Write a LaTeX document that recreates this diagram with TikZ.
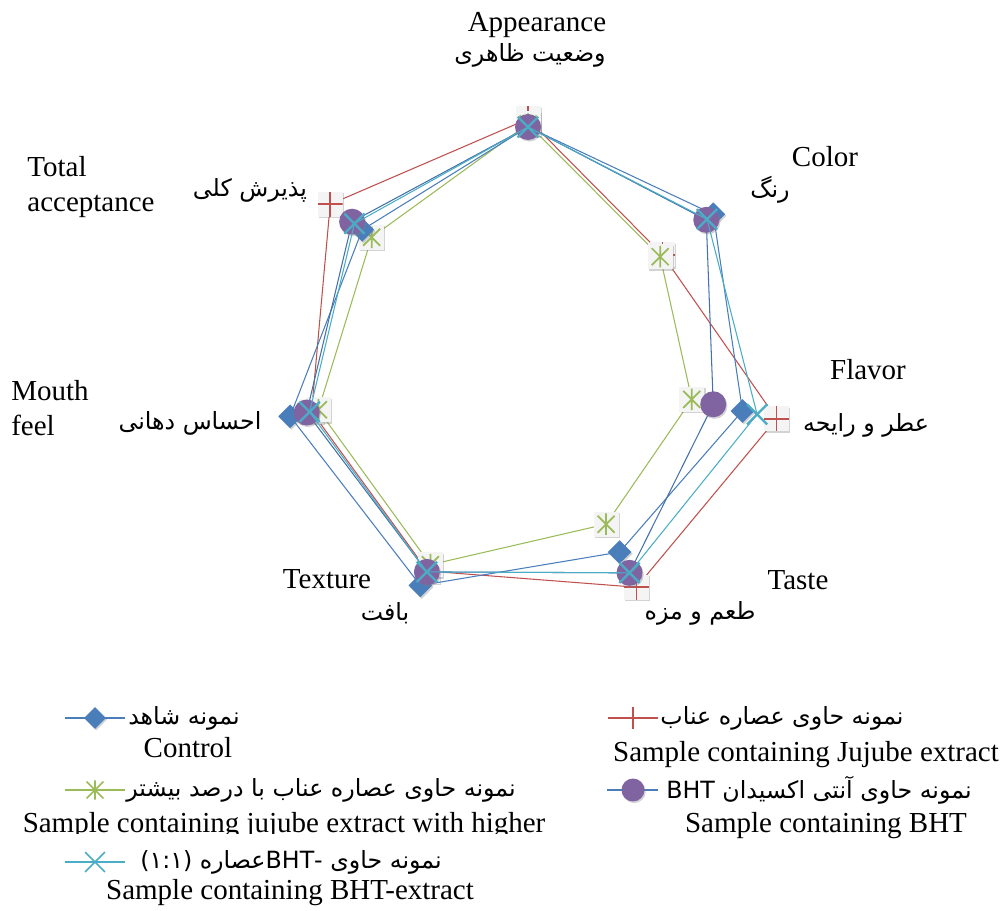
\documentclass[tikz,border=0pt]{standalone}
\usepackage{fontspec}
\setmainfont{Liberation Serif}
\newfontfamily\farsi[Script=Arabic]{DejaVu Sans}
\TeXXeTstate=1
\usetikzlibrary{shapes.geometric,shapes.misc,shadows}

\definecolor{ctlblue}{RGB}{74,126,187}
\definecolor{jjred}{RGB}{192,80,77}
\definecolor{higreen}{RGB}{155,187,89}
\definecolor{bhtpurple}{RGB}{128,100,162}
\definecolor{mixcyan}{RGB}{75,172,198}

\newcommand{\fa}[1]{{\farsi\fontsize{13.5}{16}\selectfont\beginR #1\endR}}

\tikzset{
  serie/.style={line width=0.6pt},
  mshadow/.style={drop shadow={shadow xshift=0.7pt,shadow yshift=-0.9pt,opacity=0.35}},
  ctlmark/.style={diamond,fill=ctlblue,inner sep=0pt,minimum size=0.48cm,mshadow},
  bhtmark/.style={circle,fill=bhtpurple,inner sep=0pt,minimum size=0.52cm,mshadow},
  boxmark/.style={rectangle,fill=gray!9,inner sep=0pt,minimum size=0.5cm,mshadow},
  plusmark/.style={path picture={
      \draw[jjred,line width=1pt] (path picture bounding box.north) -- (path picture bounding box.south)
        (path picture bounding box.west) -- (path picture bounding box.east);}},
  starmark/.style={path picture={
      \draw[higreen,line width=1pt] ([yshift=-1pt]path picture bounding box.north) -- ([yshift=1pt]path picture bounding box.south)
        (-0.17cm,-0.17cm) -- (0.17cm,0.17cm) (-0.17cm,0.17cm) -- (0.17cm,-0.17cm);}},
  jjmark/.style={boxmark,plusmark},
  himark/.style={boxmark,starmark},
  mixmark/.style={cross out,draw=mixcyan,line width=1.3pt,inner sep=0pt,minimum size=0.36cm},
  jjleg/.style={rectangle,inner sep=0pt,minimum size=0.46cm,plusmark},
  hileg/.style={rectangle,inner sep=0pt,minimum size=0.46cm,starmark}
}

\begin{document}
\begin{tikzpicture}[x=0.02cm,y=0.02cm,font=\fontsize{16.5}{20}\selectfont]
        \useasboundingbox (0,0) rectangle (1004,910);
        \begin{scope}[shift={(528,548)}]
            \foreach \r [count=\k from 0] in {243,172,255,250,232,222,253}
                \coordinate (jj\k) at ({90-\k*360/7}:\r);
            \foreach \r [count=\k from 0] in {238,169,168,180,225,215,200}
                \coordinate (hi\k) at ({90-\k*360/7}:\r);
            \foreach \r [count=\k from 0] in {235,237,220,211,248,244,212}
                \coordinate (ctl\k) at ({90-\k*360/7}:\r);
            \foreach \r [count=\k from 0] in {235,228,190,234,233,227,225}
                \coordinate (bht\k) at ({90-\k*360/7}:\r);
            \foreach \r [count=\k from 0] in {235,229,235,234,233,224,222}
                \coordinate (mix\k) at ({90-\k*360/7}:\r);
        \end{scope}

        \draw[serie,jjred] (jj0) \foreach \k in {1,...,6} {-- (jj\k)} -- cycle;
        \foreach \k in {0,...,6} \node[jjmark] (jjm\k) at (jj\k) {};
        \draw[serie,higreen] (hi0) \foreach \k in {1,...,6} {-- (hi\k)} -- cycle;
        \foreach \k in {0,...,6} \node[himark] (him\k) at (hi\k) {};
        \draw[serie,ctlblue] (ctl0) \foreach \k in {1,...,6} {-- (ctl\k)} -- cycle;
        \foreach \k in {0,...,6} \node[ctlmark] (ctlm\k) at (ctl\k) {};
        \draw[serie,ctlblue!90!black] (bht0) \foreach \k in {1,...,6} {-- (bht\k)} -- cycle;
        \foreach \k in {0,...,6} \node[bhtmark] (bhtm\k) at (bht\k) {};
        \draw[serie,mixcyan] (mix0) \foreach \k in {1,...,6} {-- (mix\k)} -- cycle;
        \foreach \k in {0,...,6} \node[mixmark] (mixm\k) at (mix\k) {};

        \node (appEn) at (537,885) {Appearance};
        \node (appFa) at (530,855) {\fa{وضعیت ظاهری}};
        \node (colEn) at (825,753) {Color};
        \node (colFa) at (770,720) {\fa{رنگ}};
        \node (flaEn) at (868,540) {Flavor};
        \node (flaFa) at (866,485) {\fa{عطر و رایحه}};
        \node (tasEn) at (798,330) {Taste};
        \node (tasFa) at (700,297) {\fa{طعم و مزه}};
        \node (texEn) at (327,331) {Texture};
        \node (texFa) at (385,297) {\fa{بافت}};
        \node[align=left] (mouEn) at (50,502) {Mouth\\feel};
        \node (mouFa) at (190,487) {\fa{احساس دهانی}};
        \node[align=left] (totEn) at (91,723) {Total\\acceptance};
        \node (totFa) at (250,720) {\fa{پذیرش کلی}};

        \coordinate (ctlA) at (65,192); \coordinate (ctlB) at (125,192);
        \draw[serie,ctlblue] (ctlA) -- (ctlB);
        \node[ctlmark,minimum size=0.44cm] (ctlL) at (95,192) {};
        \node (ctlFa) at (184,192) {\fa{نمونه شاهد}};
        \node (ctlEn) at (188,162) {Control};

        \coordinate (hiA) at (65,120); \coordinate (hiB) at (125,120);
        \draw[serie,higreen] (hiA) -- (hiB);
        \node[hileg] (hiL) at (95,120) {};
        \node (hiFa) at (321,120) {\fa{نمونه حاوی عصاره عناب با درصد بیشتر}};
        \begin{scope}
            \clip (0,77) rectangle (1004,110);
            \node[anchor=base] (hiEn) at (284,78) {Sample containing jujube extract with higher};
        \end{scope}

        \coordinate (mixA) at (65,48); \coordinate (mixB) at (125,48);
        \draw[serie,mixcyan] (mixA) -- (mixB);
        \node[mixmark,line width=1pt] (mixL) at (95,48) {};
        \node (mixFa) at (291,48) {\fa{نمونه حاوی \beginL BHT-\endL عصاره (۱:۱)}};
        \node (mixEn) at (290,17) {Sample containing BHT-extract};

        \coordinate (jjA) at (608,192); \coordinate (jjB) at (658,192);
        \draw[serie,jjred] (jjA) -- (jjB);
        \node[jjleg] (jjL) at (633,192) {};
        \node (jjFa) at (782,192) {\fa{نمونه حاوی عصاره عناب}};
        \node (jjEn) at (806,155) {Sample containing Jujube extract};

        \coordinate (bhtA) at (607,120); \coordinate (bhtB) at (658,120);
        \draw[serie,ctlblue] (bhtA) -- (bhtB);
        \node[bhtmark,minimum size=0.46cm] (bhtL) at (633,120) {};
        \node (bhtFa) at (819,120) {\fa{نمونه حاوی آنتی اکسیدان \beginL BHT\endL}};
        \node (bhtEn) at (826,84) {Sample containing BHT};
\end{tikzpicture}
\end{document}
